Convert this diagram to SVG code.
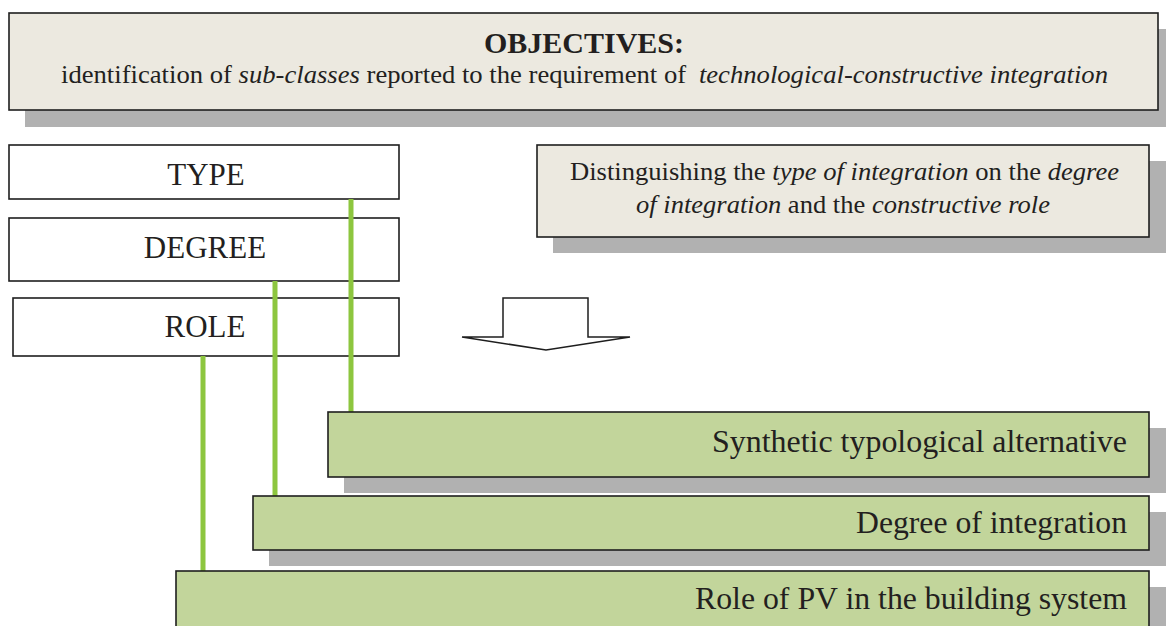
<svg xmlns="http://www.w3.org/2000/svg" width="1166" height="626" viewBox="0 0 1166 626">
  <style>
    .shadow { fill: #b1b1b1; }
    .note { fill: #ece9e0; stroke: #1e1e1e; stroke-width: 1.6; }
    .plain { fill: #ffffff; stroke: #1e1e1e; stroke-width: 1.6; }
    .green { fill: #c2d59b; stroke: #1e1e1e; stroke-width: 1.6; }
    .txt { font-family: "Liberation Serif", "Times New Roman", serif; fill: #231f20; }
    .it { font-style: italic; }
    .link { stroke: #8dc63f; stroke-width: 5; fill: none; }
    .arrow { fill: #ffffff; stroke: #1e1e1e; stroke-width: 1.5; stroke-linejoin: miter; }
  </style>

  <!-- objectives banner -->
  <g id="objectives">
    <rect class="shadow" x="25" y="29" width="1149" height="98"/>
    <rect class="note" x="9" y="13" width="1149" height="97"/>
    <text class="txt" x="584" y="53" font-size="30" font-weight="bold" text-anchor="middle">OBJECTIVES:</text>
    <text class="txt" x="61" y="83" font-size="26" textLength="1047" lengthAdjust="spacingAndGlyphs">identification of <tspan class="it">sub-classes</tspan> reported to the requirement of <tspan class="it" dx="6">technological-constructive integration</tspan></text>
  </g>

  <!-- classification criteria -->
  <g id="type">
    <rect class="plain" x="9" y="145" width="390" height="54"/>
    <text class="txt" x="206" y="185" font-size="31" text-anchor="middle">TYPE</text>
  </g>
  <g id="degree">
    <rect class="plain" x="9" y="218" width="390" height="63"/>
    <text class="txt" x="205" y="258" font-size="31" text-anchor="middle">DEGREE</text>
  </g>
  <g id="role">
    <rect class="plain" x="13" y="298" width="386" height="58"/>
    <text class="txt" x="205" y="337" font-size="31" text-anchor="middle">ROLE</text>
  </g>

  <!-- explanatory note -->
  <g id="note">
    <rect class="shadow" x="553" y="161" width="613" height="92"/>
    <rect class="note" x="537" y="145" width="612" height="92"/>
    <text class="txt" x="570" y="180" font-size="26" textLength="549" lengthAdjust="spacingAndGlyphs">Distinguishing the <tspan class="it">type of integration</tspan> on the <tspan class="it">degree</tspan></text>
    <text class="txt" x="636" y="213" font-size="26" textLength="414" lengthAdjust="spacingAndGlyphs"><tspan class="it">of integration</tspan> and the <tspan class="it">constructive role</tspan></text>
  </g>

  <!-- block arrow -->
  <g id="down-arrow">
    <path class="arrow" d="M503,298 H588 V337 H630 L546,350 L462,337 H503 Z"/>
  </g>

  <!-- connectors from criteria to results -->
  <g id="connectors">
    <line class="link" x1="351" y1="199" x2="351" y2="412"/>
    <line class="link" x1="275" y1="281" x2="275" y2="496"/>
    <line class="link" x1="203" y1="356" x2="203" y2="571"/>
  </g>

  <!-- resulting sub-classes -->
  <g id="synthetic">
    <rect class="shadow" x="344" y="428" width="822" height="65"/>
    <rect class="green" x="328" y="412" width="821" height="65"/>
    <text class="txt" x="1127" y="452" font-size="32" text-anchor="end" textLength="415" lengthAdjust="spacingAndGlyphs">Synthetic typological alternative</text>
  </g>
  <g id="degree-of-integration">
    <rect class="shadow" x="269" y="512" width="897" height="54"/>
    <rect class="green" x="253" y="496" width="896" height="54"/>
    <text class="txt" x="1127" y="533" font-size="32" text-anchor="end" textLength="271" lengthAdjust="spacingAndGlyphs">Degree of integration</text>
  </g>
  <g id="role-of-pv">
    <rect class="shadow" x="192" y="587" width="974" height="60"/>
    <rect class="green" x="176" y="571" width="973" height="70"/>
    <text class="txt" x="1127" y="609" font-size="32" text-anchor="end" textLength="432" lengthAdjust="spacingAndGlyphs">Role of PV in the building system</text>
  </g>
</svg>
